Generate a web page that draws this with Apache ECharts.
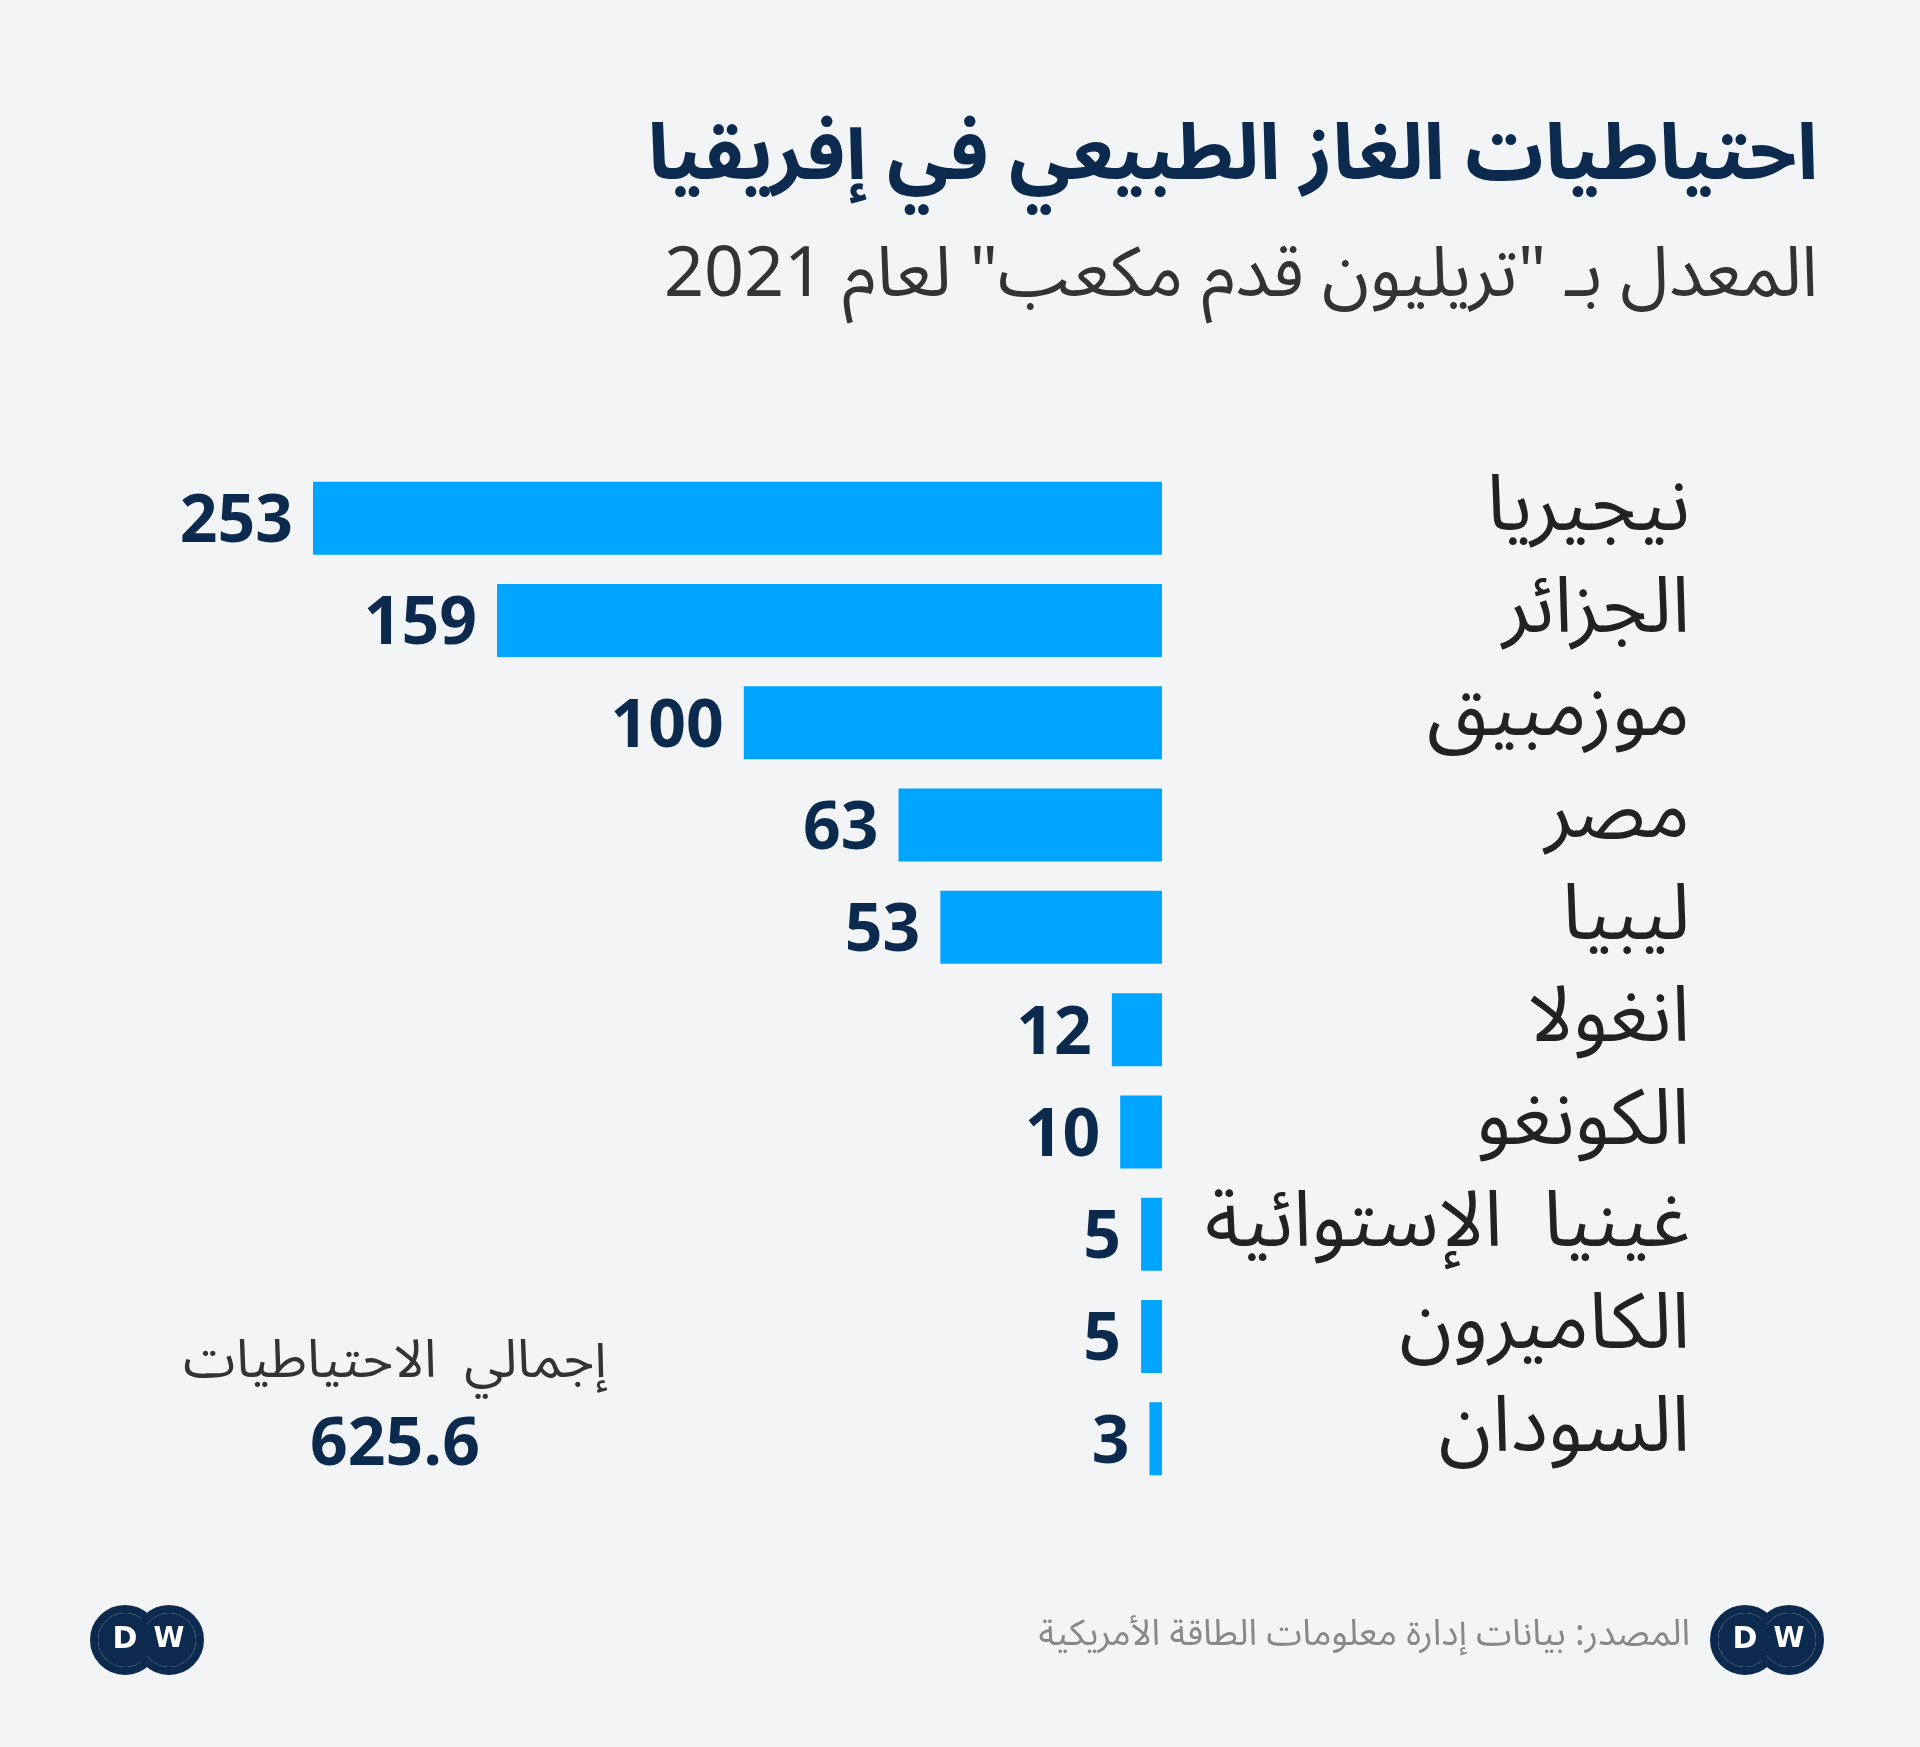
<!DOCTYPE html>
<html><head><meta charset="utf-8">
<script src="https://cdn.jsdelivr.net/npm/echarts@6/dist/echarts.min.js"></script>
<style>html,body{margin:0;padding:0;background:#f2f4f6}#c{width:1920px;height:1747px}</style>
</head><body><div id="c"></div>
<script>
const categories = ["نيجيريا","الجزائر","موزمبيق","مصر","ليبيا","انغولا","الكونغو","غينيا  الإستوائية","الكاميرون","السودان"];
const values = [253,159,100,63,53,12,10,5,5,3];
const axisMax = 203;
const totalLabel = "إجمالي  الاحتياطيات";
const totalValue = "625.6";
const F = "'Noto Sans Arabic','Noto Sans','DejaVu Sans',sans-serif";
const navy = "#0b2a4e";
const chart = echarts.init(document.getElementById('c'));
function logo(cx, cy){
  return [
    {type:'circle',shape:{cx:cx-22,cy:cy,r:31},style:{fill:'#fff',stroke:navy,lineWidth:8}},
    {type:'circle',shape:{cx:cx+22,cy:cy,r:31},style:{fill:'#fff',stroke:navy,lineWidth:8}},
    {type:'circle',shape:{cx:cx+22,cy:cy,r:27},style:{fill:navy}},
    {type:'circle',shape:{cx:cx-22,cy:cy,r:27},style:{fill:navy}},
    {type:'text',x:cx-22,y:cy,style:{text:'D',font:"bold 30px 'DejaVu Sans'",fill:'#fff',align:'center',verticalAlign:'middle'}},
    {type:'text',x:cx+22,y:cy,style:{text:'W',font:"bold 28px 'DejaVu Sans'",fill:'#fff',align:'center',verticalAlign:'middle'}}
  ];
}
chart.setOption({
  backgroundColor:'#f2f4f6',
  animation:false,
  grid:{left:313,right:758,top:467,bottom:257},
  xAxis:{type:'value',min:0,max:axisMax,inverse:true,show:false},
  yAxis:{type:'category',data:categories,inverse:true,position:'right',
    axisLine:{show:false},axisTick:{show:false},
    axisLabel:{margin:528,align:'right',fontSize:78,color:'#222',fontFamily:F,padding:[34,0,0,0]}},
  series:[{type:'bar',data:values,barWidth:73,clip:true,itemStyle:{color:'#00a5ff'},
    label:{show:true,position:'left',distance:20,offset:[0,14],fontSize:66,fontWeight:'bold',color:navy,fontFamily:F}}],
  graphic:[
    {type:'text',right:102,top:128,style:{text:'احتياطيات الغاز الطبيعي في إفريقيا',font:"bold 78px "+F,fill:navy}},
    {type:'text',right:102,top:250,style:{text:'المعدل بـ "تريليون قدم مكعب" لعام 2021',font:"70px "+F,fill:'#333'}},
    {type:'text',x:395,y:1369,style:{text:totalLabel,font:"53px "+F,fill:'#333',align:'center',verticalAlign:'middle'}},
    {type:'text',x:395,y:1455,style:{text:totalValue,font:"bold 66px "+F,fill:navy,align:'center',verticalAlign:'middle'}},
    {type:'text',x:1690,y:1640,style:{text:'المصدر: بيانات إدارة معلومات الطاقة الأمريكية',font:"36px "+F,fill:'#888',align:'right',verticalAlign:'middle'}},
    ...logo(1767,1640),
    ...logo(147,1640)
  ]
});
</script></body></html>
